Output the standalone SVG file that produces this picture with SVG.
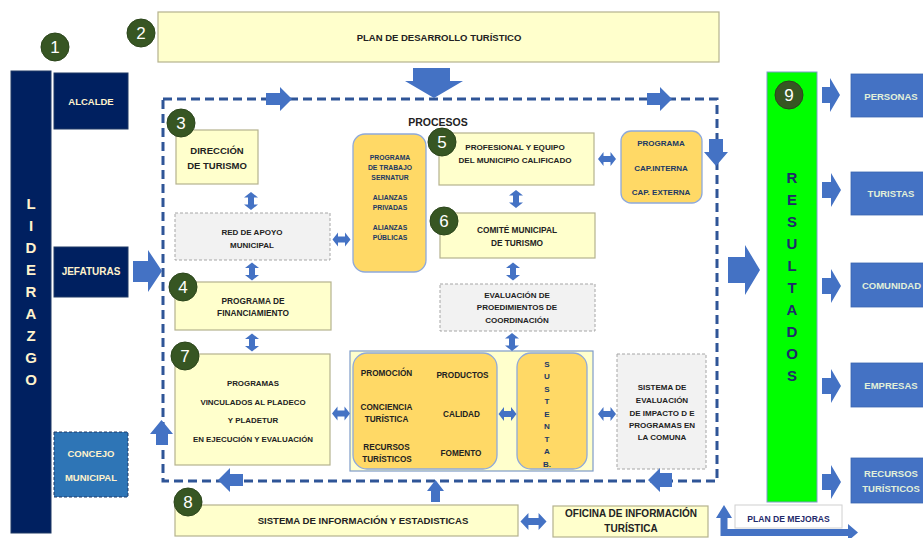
<svg xmlns="http://www.w3.org/2000/svg" xmlns:xlink="http://www.w3.org/1999/xlink" width="923" height="538" viewBox="0 0 923 538">
<style>
text{font-family:"Liberation Sans",Arial,sans-serif;font-weight:bold;text-anchor:middle;dominant-baseline:central}
.y{fill:#FFFFCC;stroke:#B5B28E;stroke-width:1.2}
.nv{fill:#002060;stroke:#1F3864;stroke-width:1}
.og{fill:#FFD966;stroke:#8EA9DB;stroke-width:1.3}
.gd{fill:#F2F2F2;stroke:#A6A6A6;stroke-width:1;stroke-dasharray:3 2}
.bl{fill:#4472C4;stroke:#3A65B0;stroke-width:0.8}
.ar{fill:#4472C4}
.t{fill:#222222}
.tn{fill:#203864}
.tc{fill:#FFF2CC}
.tg{fill:#E2F0D9}
.cn circle{fill:#375623;stroke:#2B451B;stroke-width:1}
.cn text{fill:#FFFFFF;font-weight:normal;font-size:17px}
</style>
<defs>
<path id="dav" d="M0,-9 L7,-3.5 L3,-3.5 L3,3.5 L7,3.5 L0,9 L-7,3.5 L-3,3.5 L-3,-3.5 L-7,-3.5 Z"/>
<path id="dah" d="M-9,0 L-3.5,-7 L-3.5,-3 L3.5,-3 L3.5,-7 L9,0 L3.5,7 L3.5,3 L-3.5,3 L-3.5,7 Z"/>
</defs>
<rect width="923" height="538" fill="#FFFFFF"/>

<!-- dashed process frame -->
<rect x="163" y="99" width="554" height="382" fill="none" stroke="#2F5597" stroke-width="3" stroke-dasharray="9 5"/>

<g id="n1-liderazgo">
<rect class="nv" x="11" y="71" width="40" height="462"/>
<g class="tc" font-size="15">
<text x="31" y="203" class="tc" style="font-size:15px">L</text>
<text x="31" y="225" class="tc" style="font-size:15px">I</text>
<text x="31" y="247" class="tc" style="font-size:15px">D</text>
<text x="31" y="269" class="tc" style="font-size:15px">E</text>
<text x="31" y="291" class="tc" style="font-size:15px">R</text>
<text x="31" y="313" class="tc" style="font-size:15px">A</text>
<text x="31" y="335" class="tc" style="font-size:15px">Z</text>
<text x="31" y="357" class="tc" style="font-size:15px">G</text>
<text x="31" y="379" class="tc" style="font-size:15px">O</text>
</g>
<g class="cn"><circle cx="55" cy="47" r="14"/><text x="55" y="47">1</text></g>
</g>

<g id="alcalde">
<rect class="nv" x="54" y="73" width="74" height="56"/>
<text class="tc" x="91" y="101" font-size="9.5">ALCALDE</text>
</g>
<g id="jefaturas">
<rect class="nv" x="54" y="247" width="74" height="50"/>
<text class="tc" x="91" y="271" font-size="10">JEFATURAS</text>
</g>
<g id="concejo">
<rect x="54" y="432" width="74" height="65" fill="#2E75B6" stroke="#1F3864" stroke-width="1" stroke-dasharray="3 2"/>
<text class="tc" x="91" y="453" font-size="9.5">CONCEJO</text>
<text class="tc" x="91" y="477" font-size="9.5">MUNICIPAL</text>
</g>

<g id="n2-plan">
<rect class="y" x="158" y="12" width="561" height="50"/>
<text class="t" x="439" y="37" font-size="9.5">PLAN DE DESARROLLO TURÍSTICO</text>
<g class="cn"><circle cx="141" cy="33" r="14"/><text x="141" y="33">2</text></g>
</g>

<text class="t" x="438" y="122" font-size="10.5">PROCESOS</text>

<g id="n3-direccion">
<rect class="y" x="176" y="130" width="82" height="54"/>
<text class="t" x="217" y="150" font-size="9.5">DIRECCIÓN</text>
<text class="t" x="217" y="165" font-size="9.5">DE TURISMO</text>
<g class="cn"><circle cx="181" cy="123" r="14"/><text x="181" y="123">3</text></g>
</g>

<g id="red-apoyo">
<rect class="gd" x="175" y="213" width="155" height="47"/>
<text class="t" x="252" y="232.5" font-size="8">RED DE APOYO</text>
<text class="t" x="252" y="245" font-size="8">MUNICIPAL</text>
</g>

<g id="n4-financiamiento">
<rect class="y" x="175" y="282" width="156" height="48"/>
<text class="t" x="253" y="300.5" font-size="8.3">PROGRAMA DE</text>
<text class="t" x="253" y="313" font-size="8.3">FINANCIAMIENTO</text>
<g class="cn"><circle cx="183" cy="287" r="14"/><text x="183" y="287">4</text></g>
</g>

<g id="n7-programas">
<rect class="y" x="175" y="354" width="155" height="111"/>
<text class="t" x="253" y="383" font-size="7.9">PROGRAMAS</text>
<text class="t" x="253" y="402" font-size="7.9">VINCULADOS AL PLADECO</text>
<text class="t" x="253" y="420.5" font-size="7.9">Y PLADETUR</text>
<text class="t" x="253" y="439" font-size="7.9">EN EJECUCIÓN Y EVALUACIÓN</text>
<g class="cn"><circle cx="185" cy="356" r="14"/><text x="185" y="356">7</text></g>
</g>

<g id="programa-trabajo">
<rect class="og" x="353" y="134" width="73" height="138" rx="12"/>
<text class="tn" x="390" y="157.5" font-size="6.8">PROGRAMA</text>
<text class="tn" x="390" y="167.5" font-size="6.8">DE TRABAJO</text>
<text class="tn" x="390" y="177" font-size="6.8">SERNATUR</text>
<text class="tn" x="390" y="197" font-size="6.8">ALIANZAS</text>
<text class="tn" x="390" y="207" font-size="6.8">PRIVADAS</text>
<text class="tn" x="390" y="227" font-size="6.8">ALIANZAS</text>
<text class="tn" x="390" y="237" font-size="6.8">PÚBLICAS</text>
</g>

<g id="n5-profesional">
<rect class="y" x="439" y="133" width="155" height="52"/>
<text class="t" x="515" y="147" font-size="8.1">PROFESIONAL Y EQUIPO</text>
<text class="t" x="515" y="160" font-size="8.1">DEL MUNICIPIO CALIFICADO</text>
<g class="cn"><circle cx="442" cy="142" r="14"/><text x="442" y="142">5</text></g>
</g>

<g id="programa-cap">
<rect class="og" x="621" y="131" width="81" height="72" rx="10"/>
<text class="tn" x="661" y="143.5" font-size="8">PROGRAMA</text>
<text class="tn" x="661" y="168" font-size="8">CAP.INTERNA</text>
<text class="tn" x="661" y="192.5" font-size="8">CAP. EXTERNA</text>
</g>

<g id="n6-comite">
<rect class="y" x="440" y="213" width="155" height="45"/>
<text class="t" x="517" y="230" font-size="8.3">COMITÉ MUNICIPAL</text>
<text class="t" x="517" y="243" font-size="8.3">DE TURISMO</text>
<g class="cn"><circle cx="444" cy="221" r="14"/><text x="444" y="221">6</text></g>
</g>

<g id="evaluacion-coordinacion">
<rect class="gd" x="440" y="284" width="155" height="47"/>
<text class="t" x="517" y="295" font-size="8">EVALUACIÓN DE</text>
<text class="t" x="517" y="307.5" font-size="8">PROEDIMIENTOS DE</text>
<text class="t" x="517" y="320" font-size="8">COORDINACIÓN</text>
</g>

<g id="grupo-acciones">
<rect x="350" y="351" width="243" height="120" fill="#FFFFCC" stroke="#7F9CC9" stroke-width="1.2"/>
<rect class="og" x="353" y="353" width="144" height="116" rx="14"/>
<text class="t" x="386.5" y="373" font-size="8.2">PROMOCIÓN</text>
<text class="t" x="462.5" y="375" font-size="8.2">PRODUCTOS</text>
<text class="t" x="386.5" y="407" font-size="8.2">CONCIENCIA</text>
<text class="t" x="386.5" y="419" font-size="8.2">TURÍSTICA</text>
<text class="t" x="461.5" y="414" font-size="8.2">CALIDAD</text>
<text class="t" x="386.5" y="447" font-size="8.2">RECURSOS</text>
<text class="t" x="387" y="459" font-size="8.2">TURÍSTICOS</text>
<text class="t" x="461" y="453" font-size="8.2">FOMENTO</text>
</g>

<g id="sustentab">
<rect class="og" x="517" y="353" width="70" height="116" rx="14"/>
<text class="tn" x="547" y="364" font-size="8">S</text>
<text class="tn" x="547" y="376.5" font-size="8">U</text>
<text class="tn" x="547" y="389" font-size="8">S</text>
<text class="tn" x="547" y="401.5" font-size="8">T</text>
<text class="tn" x="547" y="414" font-size="8">E</text>
<text class="tn" x="547" y="426.5" font-size="8">N</text>
<text class="tn" x="547" y="439" font-size="8">T</text>
<text class="tn" x="547" y="451.5" font-size="8">A</text>
<text class="tn" x="547" y="464" font-size="8">B.</text>
</g>

<g id="sistema-evaluacion">
<rect class="gd" x="617" y="354" width="89" height="115"/>
<text class="t" x="662" y="387" font-size="8">SISTEMA DE</text>
<text class="t" x="662" y="400" font-size="8">EVALUACIÓN</text>
<text class="t" x="662" y="413" font-size="8">DE IMPACTO D E</text>
<text class="t" x="662" y="425.5" font-size="8">PROGRAMAS EN</text>
<text class="t" x="662" y="437.5" font-size="8">LA COMUNA</text>
</g>

<g id="n8-sistema-informacion">
<rect class="y" x="175" y="505" width="343" height="31"/>
<text class="t" x="363" y="520" font-size="9.6">SISTEMA DE INFORMACIÓN Y ESTADISTICAS</text>
<g class="cn"><circle cx="188" cy="502" r="14"/><text x="188" y="502">8</text></g>
</g>

<g id="oficina">
<rect class="y" x="553" y="506" width="155" height="31"/>
<text class="t" x="631" y="513.5" font-size="10">OFICINA DE INFORMACIÓN</text>
<text class="t" x="631" y="528" font-size="10">TURÍSTICA</text>
</g>

<g id="n9-resultados">
<rect x="767" y="72" width="50" height="430" fill="#00FF00" stroke="#7F9CC9" stroke-width="1"/>
<text x="792" y="177" font-size="15" fill="#1F2A6B">R</text>
<text x="792" y="199" font-size="15" fill="#1F2A6B">E</text>
<text x="792" y="221" font-size="15" fill="#1F2A6B">S</text>
<text x="792" y="243" font-size="15" fill="#1F2A6B">U</text>
<text x="792" y="265" font-size="15" fill="#1F2A6B">L</text>
<text x="792" y="287" font-size="15" fill="#1F2A6B">T</text>
<text x="792" y="309" font-size="15" fill="#1F2A6B">A</text>
<text x="792" y="331" font-size="15" fill="#1F2A6B">D</text>
<text x="792" y="353" font-size="15" fill="#1F2A6B">O</text>
<text x="792" y="375" font-size="15" fill="#1F2A6B">S</text>
<g class="cn"><circle cx="789" cy="95" r="14"/><text x="789" y="95">9</text></g>
</g>

<g id="personas"><rect class="bl" x="851" y="74" width="80" height="43"/><text class="tg" x="891" y="96" font-size="9.5">PERSONAS</text></g>
<g id="turistas"><rect class="bl" x="851" y="172" width="80" height="43"/><text class="tg" x="891" y="193.5" font-size="9.5">TURISTAS</text></g>
<g id="comunidad"><rect class="bl" x="851" y="263" width="80" height="44"/><text class="tg" x="891.5" y="285" font-size="9.5">COMUNIDAD</text></g>
<g id="empresas"><rect class="bl" x="851" y="363" width="80" height="44"/><text class="tg" x="891" y="385" font-size="9.5">EMPRESAS</text></g>
<g id="recursos"><rect class="bl" x="851" y="458" width="80" height="45"/><text class="tg" x="891" y="473" font-size="9.5">RECURSOS</text><text class="tg" x="891" y="488" font-size="9.5">TURÍSTICOS</text></g>

<g id="plan-mejoras">
<rect x="735" y="505" width="107" height="23" fill="#FFFFFF" stroke="#D0D0D0" stroke-width="1"/>
<text x="788.5" y="519" font-size="8.6" fill="#1F2A6B">PLAN DE MEJORAS</text>
</g>

<g id="connectors" class="ar">
<path d="M413,68 L450,68 L450,81 L463,81 L434,98 L405,81 L413,81 Z"/>
<path d="M266,93 L280,93 L280,87 L292,99 L280,111 L280,105 L266,105 Z"/>
<path d="M647,93 L660,93 L660,87 L672,99 L660,111 L660,105 L647,105 Z"/>
<path d="M709,139 L723,139 L723,152 L728,152 L716,166 L704,152 L709,152 Z"/>
<path d="M133,261 L148,261 L148,250 L162,271 L148,292 L148,282 L133,282 Z"/>
<path d="M161.5,420 L173,434 L168,434 L168,445 L156,445 L156,434 L150,434 Z"/>
<path d="M218,480 L230,468 L230,474 L243,474 L243,486 L230,486 L230,492 Z"/>
<path d="M648,480 L660,468 L660,473 L672,473 L672,487 L660,487 L660,492 Z"/>
<path d="M435.5,480 L444,491 L440,491 L440,502 L431,502 L431,491 L427,491 Z"/>
<path d="M728,257 L745,257 L745,245 L760,270 L745,295 L745,283 L728,283 Z"/>
<path d="M822,87 L830,87 L830,78 L840,95 L830,112 L830,103 L822,103 Z"/>
<path d="M822,182 L831,182 L831,173 L841,190 L831,207 L831,198 L822,198 Z"/>
<path d="M822,278 L831,278 L831,269 L841,286 L831,303 L831,294 L822,294 Z"/>
<path d="M822,378 L831,378 L831,369 L841,386 L831,403 L831,394 L822,394 Z"/>
<path d="M822,474 L831,474 L831,465 L841,482 L831,499 L831,490 L822,490 Z"/>
<path d="M724,505 L732,518 L727.5,518 L727.5,529 L848,529 L848,524 L858,532.5 L848,541 L848,536 L720.5,536 L720.5,518 L716,518 Z"/>
<use xlink:href="#dav" transform="translate(251,201)"/>
<use xlink:href="#dav" transform="translate(252,271.5)"/>
<use xlink:href="#dav" transform="translate(252,342.5)"/>
<use xlink:href="#dav" transform="translate(516,199)"/>
<use xlink:href="#dav" transform="translate(513,271.5)"/>
<use xlink:href="#dav" transform="translate(512,342)"/>
<use xlink:href="#dah" transform="translate(341.5,239.5)"/>
<use xlink:href="#dah" transform="translate(607,159)"/>
<use xlink:href="#dah" transform="translate(341,413.5)"/>
<use xlink:href="#dah" transform="translate(507.5,414)"/>
<use xlink:href="#dah" transform="translate(607,414)"/>
<use xlink:href="#dah" transform="translate(533.5,521.5) scale(1.45,1.2)"/>
</g>
</svg>
